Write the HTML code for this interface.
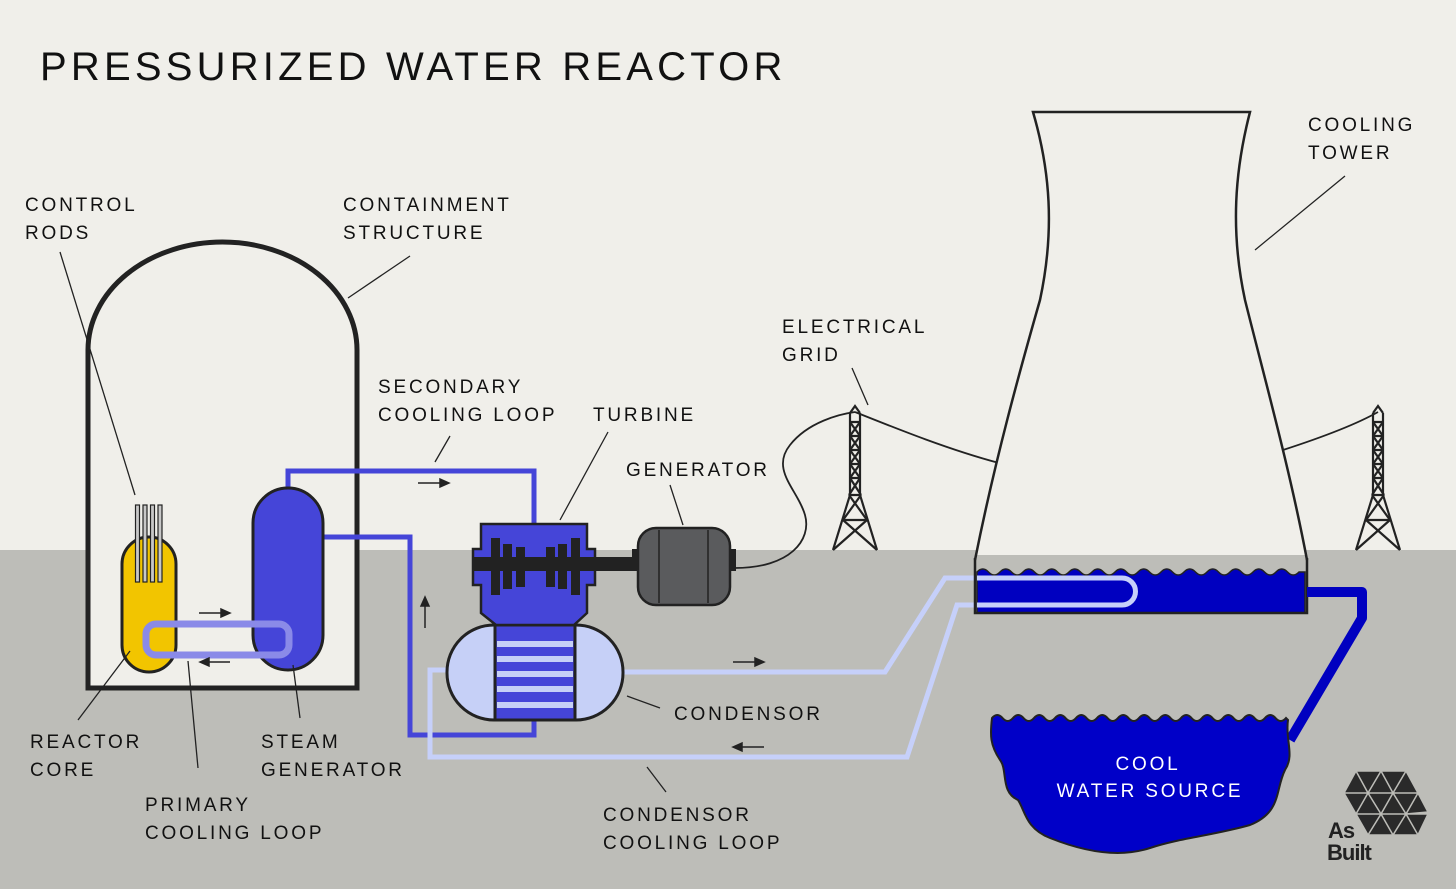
<!DOCTYPE html>
<html><head><meta charset="utf-8"><style>
html,body{margin:0;padding:0;background:#f0efea}
svg{display:block}
.t{font-family:"Liberation Sans",sans-serif;font-size:19px;letter-spacing:2.8px;fill:#111}
</style></head><body>
<svg width="1456" height="889" viewBox="0 0 1456 889" xmlns="http://www.w3.org/2000/svg">
<rect width="1456" height="889" fill="#f0efea"/>
<rect y="550" width="1456" height="339" fill="#bdbdb8"/>
<text x="40" y="80" font-family="Liberation Sans,sans-serif" font-size="40" letter-spacing="4.2" fill="#111">PRESSURIZED WATER REACTOR</text>

<path d="M88,688 L88,350 A134.5,108 0 0 1 357,350 L357,688 Z" fill="#f0efea" stroke="#222" stroke-width="5"/>

<g fill="none" stroke="#4545d8" stroke-width="5">
<path d="M288,490 L288,471 L534,471 L534,526"/>
<path d="M323,537 L410,537 L410,735 L534,735 L534,718"/>
</g>
<rect x="122" y="537" width="54" height="135" rx="27" fill="#f2c500" stroke="#222" stroke-width="3"/>
<g fill="#c8c8c8" stroke="#222" stroke-width="1.2">
<rect x="135.5" y="505" width="4" height="77"/><rect x="143" y="505" width="4" height="77"/><rect x="150.5" y="505" width="4" height="77"/><rect x="158" y="505" width="4" height="77"/>
</g>
<rect x="253" y="488" width="70" height="182" rx="35" fill="#4545d8" stroke="#222" stroke-width="3"/>
<rect x="146" y="624" width="143" height="31" rx="10" fill="none" stroke="#8a8ae8" stroke-width="7"/>
<g stroke="#222" stroke-width="1.5" fill="#222">
<line x1="199" y1="613" x2="222" y2="613"/><path d="M230,613 L221,609 L221,617Z"/>
<line x1="230" y1="662" x2="208" y2="662"/><path d="M200,662 L209,658 L209,666Z"/>
<line x1="418" y1="483" x2="441" y2="483"/><path d="M449,483 L440,479 L440,487Z"/>
<line x1="425" y1="628" x2="425" y2="606"/><path d="M425,597 L421,606 L429,606Z"/>
<line x1="733" y1="662" x2="756" y2="662"/><path d="M764,662 L755,658 L755,666Z"/>
<line x1="764" y1="747" x2="741" y2="747"/><path d="M733,747 L742,743 L742,751Z"/>
</g>

<g fill="none" stroke="#c6d0fa" stroke-width="5">
<path d="M622,672 L885,672 L945,578 L1122,578 A13.5,13.5 0 0 1 1122,605 L957,605 L907,757 L430,757 L430,670 L448,670"/>
</g>

<g fill="none" stroke="#222" stroke-width="1.8">
<path d="M735,568 C790,568 812,540 805,515 C798,490 770,470 790,445 C808,422 840,414 855,412"/>
<path d="M855,412 C900,430 950,450 999,463"/>
<path d="M1283,450 C1320,438 1355,425 1378,412"/>
</g>
<g id="py" fill="none" stroke="#222" stroke-width="2.2">
<path d="M850,413 L850,495 L833,550 M860,413 L860,495 L877,550 M850,413 L855,406 L860,413"/>
<path d="M850,422 H860 M850,436 H860 M850,450 H860 M850,464 H860 M850,478 H860 M849,495 H861 M843,520 H867"/>
<path d="M850,422 L860,436 M860,422 L850,436 M850,436 L860,450 M860,436 L850,450 M850,450 L860,464 M860,450 L850,464 M850,464 L860,478 M860,464 L850,478 M850,478 L861,495 M860,478 L849,495 M849,495 L867,520 M861,495 L843,520 M843,520 L877,550 M867,520 L833,550"/>
</g>
<use href="#py" transform="translate(523,0)"/>

<path d="M1033,112 L1250,112 C1235,170 1230,230 1245,300 C1265,380 1290,470 1307,555 L975,555 C995,460 1020,370 1040,300 C1055,230 1050,170 1033,112 Z" fill="#f0efea" stroke="none"/>
<path d="M975,560 C995,460 1020,370 1040,300 C1055,230 1050,170 1033,112 L1250,112 C1235,170 1230,230 1245,300 C1265,380 1290,470 1307,560" fill="none" stroke="#222" stroke-width="2.5"/>
<path d="M977,572 q5.75,-6 11.5,0 q5.75,6 11.5,0 q5.75,-6 11.5,0 q5.75,6 11.5,0 q5.75,-6 11.5,0 q5.75,6 11.5,0 q5.75,-6 11.5,0 q5.75,6 11.5,0 q5.75,-6 11.5,0 q5.75,6 11.5,0 q5.75,-6 11.5,0 q5.75,6 11.5,0 q5.75,-6 11.5,0 q5.75,6 11.5,0 q5.75,-6 11.5,0 q5.75,6 11.5,0 q5.75,-6 11.5,0 q5.75,6 11.5,0 q5.75,-6 11.5,0 q5.75,6 11.5,0 q5.75,-6 11.5,0 q5.75,6 11.5,0 q5.75,-6 11.5,0 q5.75,6 11.5,0 q5.75,-6 11.5,0 q5.75,6 11.5,0 q5.75,-6 11.5,0 q5.75,6 11.5,0 L1305,572 L1305,613 L977,613 Z" fill="#0000c0" stroke="#222" stroke-width="1.5"/>
<path d="M975,558 L975,613 L1307,613 L1307,558" fill="none" stroke="#222" stroke-width="2.5"/>
<path d="M977,578 L1122,578 A13.5,13.5 0 0 1 1122,605 L977,605" fill="none" stroke="#c6d0fa" stroke-width="5"/>
<path d="M1307,592 L1362,592 L1362,618 L1290,740" fill="none" stroke="#0000c0" stroke-width="10" stroke-linejoin="round"/>
<path d="M992,718 q5.25,-6 10.5,0 q5.25,6 10.5,0 q5.25,-6 10.5,0 q5.25,6 10.5,0 q5.25,-6 10.5,0 q5.25,6 10.5,0 q5.25,-6 10.5,0 q5.25,6 10.5,0 q5.25,-6 10.5,0 q5.25,6 10.5,0 q5.25,-6 10.5,0 q5.25,6 10.5,0 q5.25,-6 10.5,0 q5.25,6 10.5,0 q5.25,-6 10.5,0 q5.25,6 10.5,0 q5.25,-6 10.5,0 q5.25,6 10.5,0 q5.25,-6 10.5,0 q5.25,6 10.5,0 q5.25,-6 10.5,0 q5.25,6 10.5,0 q5.25,-6 10.5,0 q5.25,6 10.5,0 q5.25,-6 10.5,0 q5.25,6 10.5,0 q5.25,-6 10.5,0 q5.25,6 10.5,0 L1288,720 C1285,740 1295,755 1285,770 C1275,790 1282,812 1250,825 C1215,835 1180,838 1150,848 C1120,858 1085,852 1050,838 C1025,828 1025,810 1018,800 C1000,792 1008,770 1000,760 C990,745 990,735 992,718 Z" fill="#0000c8" stroke="#222" stroke-width="2"/>
<text x="1148" y="770" text-anchor="middle" font-family="Liberation Sans,sans-serif" font-size="19" letter-spacing="2.8" fill="#fff">COOL</text>
<text x="1150" y="797" text-anchor="middle" font-family="Liberation Sans,sans-serif" font-size="19" letter-spacing="2.8" fill="#fff">WATER SOURCE</text>

<rect x="447" y="625" width="176" height="95" rx="47" fill="#c6d0f7" stroke="#222" stroke-width="3"/>
<rect x="495" y="625" width="80" height="95" fill="#4545d8" stroke="#222" stroke-width="3"/>
<g fill="#c6d0f7"><rect x="497" y="641" width="76" height="6"/><rect x="497" y="656" width="76" height="6"/><rect x="497" y="671" width="76" height="6"/><rect x="497" y="686" width="76" height="6"/><rect x="497" y="702" width="76" height="6"/></g>
<path d="M481,524 L587,524 L587,549 L595,549 L595,585 L587,585 L587,613 L574,625 L496,625 L481,613 L481,585 L473,585 L473,549 L481,549 Z" fill="#4545d8" stroke="#222" stroke-width="2.5"/>
<rect x="473" y="557" width="167" height="14" fill="#222"/>
<g fill="#222"><rect x="491" y="538" width="9" height="57"/><rect x="503" y="544" width="9" height="45"/><rect x="516" y="547" width="9" height="40"/><rect x="546" y="547" width="9" height="40"/><rect x="558" y="544" width="9" height="45"/><rect x="571" y="538" width="9" height="57"/></g>
<rect x="730" y="549" width="6" height="22" fill="#222"/>
<rect x="632" y="549" width="8" height="22" fill="#222"/>
<rect x="638" y="528" width="92" height="77" rx="18" fill="#5a5b5d" stroke="#222" stroke-width="2.5"/>
<line x1="659" y1="530" x2="659" y2="603" stroke="#222" stroke-width="1.5"/>
<line x1="708" y1="530" x2="708" y2="603" stroke="#222" stroke-width="1.5"/>

<g stroke="#222" stroke-width="1.3">
<line x1="60" y1="252" x2="135" y2="495"/>
<line x1="410" y1="256" x2="348" y2="298"/>
<line x1="450" y1="436" x2="435" y2="462"/>
<line x1="608" y1="432" x2="560" y2="520"/>
<line x1="670" y1="485" x2="683" y2="525"/>
<line x1="852" y1="368" x2="868" y2="405"/>
<line x1="1345" y1="176" x2="1255" y2="250"/>
<line x1="78" y1="720" x2="130" y2="651"/>
<line x1="198" y1="768" x2="188" y2="661"/>
<line x1="300" y1="718" x2="293" y2="665"/>
<line x1="660" y1="708" x2="627" y2="696"/>
<line x1="666" y1="792" x2="647" y2="767"/>
</g>

<text class="t" x="25" y="211">CONTROL</text><text class="t" x="25" y="239">RODS</text>
<text class="t" x="343" y="211">CONTAINMENT</text><text class="t" x="343" y="239">STRUCTURE</text>
<text class="t" x="378" y="393">SECONDARY</text><text class="t" x="378" y="421">COOLING LOOP</text>
<text class="t" x="593" y="421">TURBINE</text>
<text class="t" x="626" y="476">GENERATOR</text>
<text class="t" x="782" y="333">ELECTRICAL</text><text class="t" x="782" y="361">GRID</text>
<text class="t" x="1308" y="131">COOLING</text><text class="t" x="1308" y="159">TOWER</text>
<text class="t" x="30" y="748">REACTOR</text><text class="t" x="30" y="776">CORE</text>
<text class="t" x="145" y="811">PRIMARY</text><text class="t" x="145" y="839">COOLING LOOP</text>
<text class="t" x="261" y="748">STEAM</text><text class="t" x="261" y="776">GENERATOR</text>
<text class="t" x="674" y="720">CONDENSOR</text>
<text class="t" x="603" y="821">CONDENSOR</text><text class="t" x="603" y="849">COOLING LOOP</text>

<g fill="#2a2a2a" stroke="#bdbdb8" stroke-width="1.5">
<path d="M1356,771 L1381,771 L1368,793Z M1381,771 L1406,771 L1393,793Z M1381,771 L1368,793 L1393,793Z M1344,793 L1368,793 L1356,771Z M1344,793 L1368,793 L1356,814Z M1368,793 L1393,793 L1381,814Z M1368,793 L1356,814 L1381,814Z M1393,793 L1418,793 L1406,771Z M1393,793 L1418,793 L1406,814Z M1393,793 L1381,814 L1406,814Z M1418,793 L1428,812 L1406,814Z M1381,814 L1406,814 L1393,835Z M1406,814 L1428,814 L1418,835Z M1406,814 L1393,835 L1418,835Z M1356,814 L1381,814 L1368,835Z M1368,835 L1393,835 L1381,814Z"/>
</g>
<text x="1328" y="838" font-family="Liberation Sans,sans-serif" font-weight="bold" font-size="22" fill="#222" letter-spacing="-1">As</text>
<text x="1327" y="860" font-family="Liberation Sans,sans-serif" font-weight="bold" font-size="22" fill="#222" letter-spacing="-1">Built</text>
</svg>
</body></html>
